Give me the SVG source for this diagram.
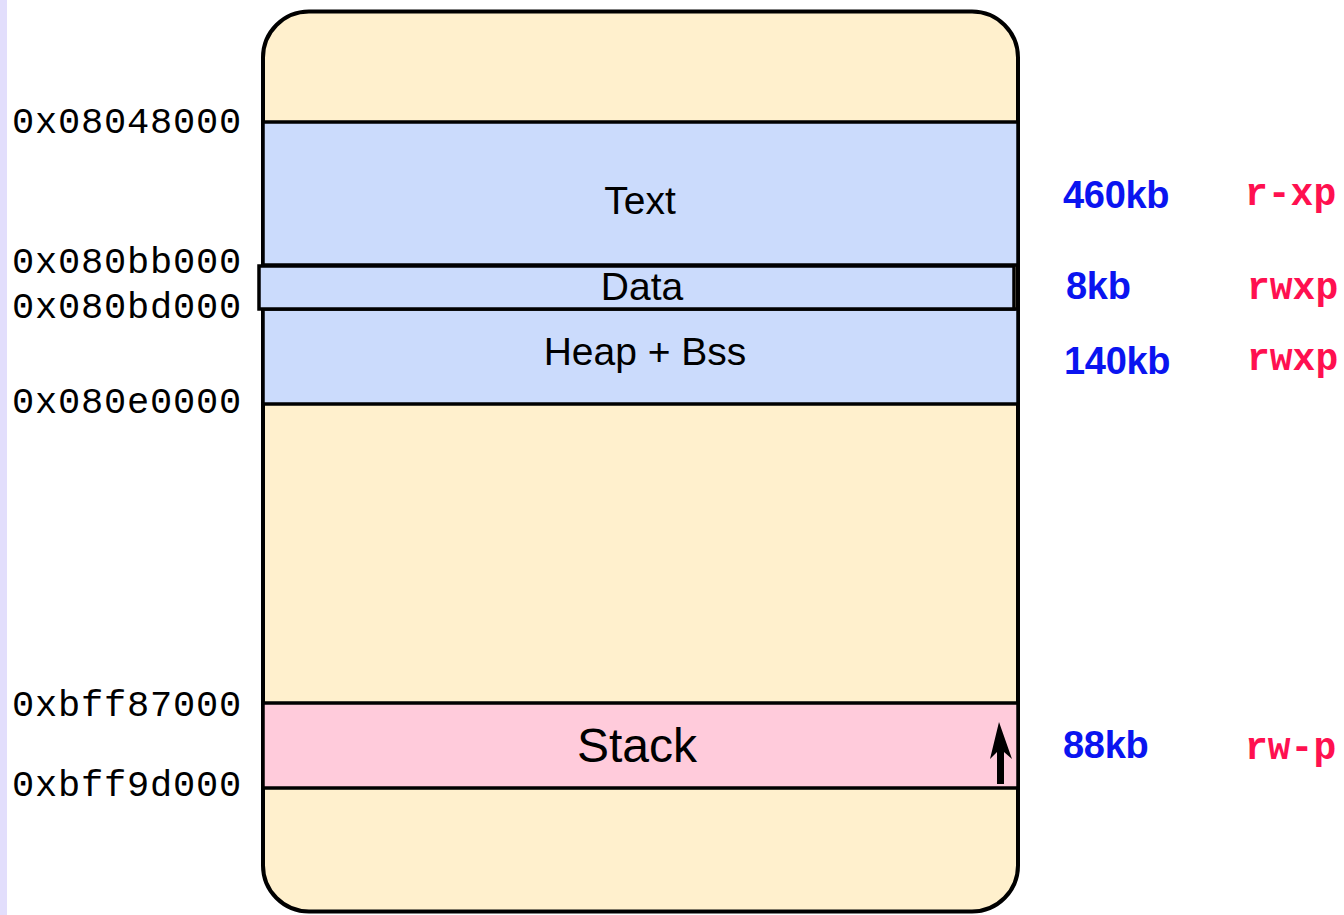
<svg xmlns="http://www.w3.org/2000/svg" width="1344" height="915" viewBox="0 0 1344 915">
<style>
.seg{stroke:#000;stroke-width:3.5}
.lbl{font-family:"Liberation Sans",Arial,sans-serif;fill:#000;text-anchor:middle}
.addr{font-family:"Liberation Mono","Courier New",monospace;font-size:37px;fill:#000;letter-spacing:0.8px}
.size{font-family:"Liberation Sans",Arial,sans-serif;font-weight:bold;font-size:38px;fill:#0a14f0;letter-spacing:-0.3px}
.perm{font-family:"Liberation Mono","Courier New",monospace;font-weight:bold;font-size:38px;fill:#ff1050}
</style>
<rect x="0" y="0" width="1344" height="915" fill="#fff"/>
<rect x="0" y="0" width="7" height="915" fill="#e2defc"/>
<g id="memory">
<rect x="263" y="11.5" width="755" height="900" rx="46" ry="46" fill="#fff0cd" stroke="#000" stroke-width="4"/>
</g>
<g id="text-seg">
<rect class="seg" x="263" y="122" width="755" height="143" fill="#cbdbfc"/>
<text class="lbl" x="640" y="214" font-size="39">Text</text>
</g>
<g id="heap-seg">
<rect class="seg" x="263" y="309" width="755" height="95" fill="#cbdbfc"/>
<text class="lbl" x="645" y="365" font-size="39">Heap + Bss</text>
</g>
<g id="data-seg">
<rect class="seg" x="259" y="266" width="755" height="43" fill="#cbdbfc"/>
<text class="lbl" x="642" y="300" font-size="39">Data</text>
</g>
<g id="stack-seg">
<rect class="seg" x="263" y="703" width="755" height="85" fill="#ffcbdb"/>
<text class="lbl" x="637" y="762" font-size="48">Stack</text>
</g>
<g id="connectors">
<polygon points="999,722 1012,759 1004,752 1004,784 997,784 997,752 990,759" fill="#000"/>
</g>
<g id="addresses">
<text class="addr" x="12" y="133">0x08048000</text>
<text class="addr" x="12" y="273">0x080bb000</text>
<text class="addr" x="12" y="318">0x080bd000</text>
<text class="addr" x="12" y="413">0x080e0000</text>
<text class="addr" x="12" y="716">0xbff87000</text>
<text class="addr" x="12" y="796">0xbff9d000</text>
</g>
<g id="sizes">
<text class="size" x="1063" y="208">460kb</text>
<text class="size" x="1066" y="299">8kb</text>
<text class="size" x="1064" y="374">140kb</text>
<text class="size" x="1063" y="758">88kb</text>
</g>
<g id="perms">
<text class="perm" x="1245" y="205">r-xp</text>
<text class="perm" x="1247" y="299">rwxp</text>
<text class="perm" x="1247" y="370">rwxp</text>
<text class="perm" x="1245" y="759">rw-p</text>
</g>
</svg>
